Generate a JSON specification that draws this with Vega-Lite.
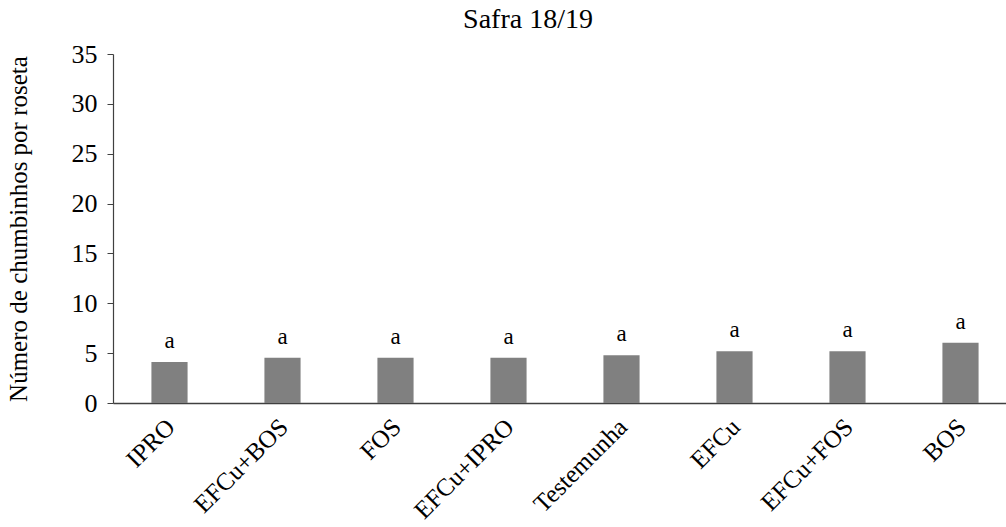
{
  "$schema": "https://vega.github.io/schema/vega-lite/v6.json",
  "autosize": "none",
  "padding": {"left": 113, "top": 54, "right": 0, "bottom": 124},
  "width": 904,
  "height": 349,
  "background": "white",
  "title": {
    "text": "Safra 18/19",
    "font": "Liberation Serif",
    "fontSize": 28,
    "fontWeight": "normal",
    "color": "black",
    "offset": 7,
    "dx": -37
  },
  "data": {
    "values": [
      {"tratamento": "IPRO", "media": 4.1, "letra": "a"},
      {"tratamento": "EFCu+BOS", "media": 4.55, "letra": "a"},
      {"tratamento": "FOS", "media": 4.55, "letra": "a"},
      {"tratamento": "EFCu+IPRO", "media": 4.55, "letra": "a"},
      {"tratamento": "Testemunha", "media": 4.8, "letra": "a"},
      {"tratamento": "EFCu", "media": 5.2, "letra": "a"},
      {"tratamento": "EFCu+FOS", "media": 5.2, "letra": "a"},
      {"tratamento": "BOS", "media": 6.05, "letra": "a"}
    ]
  },
  "encoding": {
    "x": {
      "field": "tratamento",
      "type": "nominal",
      "sort": null,
      "scale": {"paddingInner": 0.68, "paddingOuter": 0.34},
      "axis": {
        "title": null,
        "labelAngle": -45,
        "labelFont": "Liberation Serif",
        "labelFontSize": 25,
        "labelColor": "black",
        "labelPadding": 11,
        "labelOffset": -7,
        "ticks": false,
        "domainColor": "#404040",
        "domainWidth": 1.5
      }
    },
    "y": {
      "field": "media",
      "type": "quantitative",
      "scale": {"domain": [0, 35], "nice": false},
      "axis": {
        "title": "Número de chumbinhos por roseta",
        "titleFont": "Liberation Serif",
        "titleFontSize": 25,
        "titleFontWeight": "normal",
        "titleColor": "black",
        "titlePadding": 40,
        "values": [0, 5, 10, 15, 20, 25, 30, 35],
        "labelFont": "Liberation Serif",
        "labelFontSize": 26,
        "labelColor": "black",
        "labelPadding": 10,
        "tickSize": 6,
        "tickColor": "#404040",
        "domainColor": "#404040",
        "domainWidth": 1.2,
        "grid": false
      }
    }
  },
  "layer": [
    {"mark": {"type": "bar", "color": "#808080"}},
    {
      "mark": {
        "type": "text",
        "baseline": "bottom",
        "dy": -9,
        "font": "Liberation Serif",
        "fontSize": 23,
        "color": "black"
      },
      "encoding": {"text": {"field": "letra"}}
    }
  ],
  "config": {"font": "Liberation Serif", "view": {"stroke": null}}
}
